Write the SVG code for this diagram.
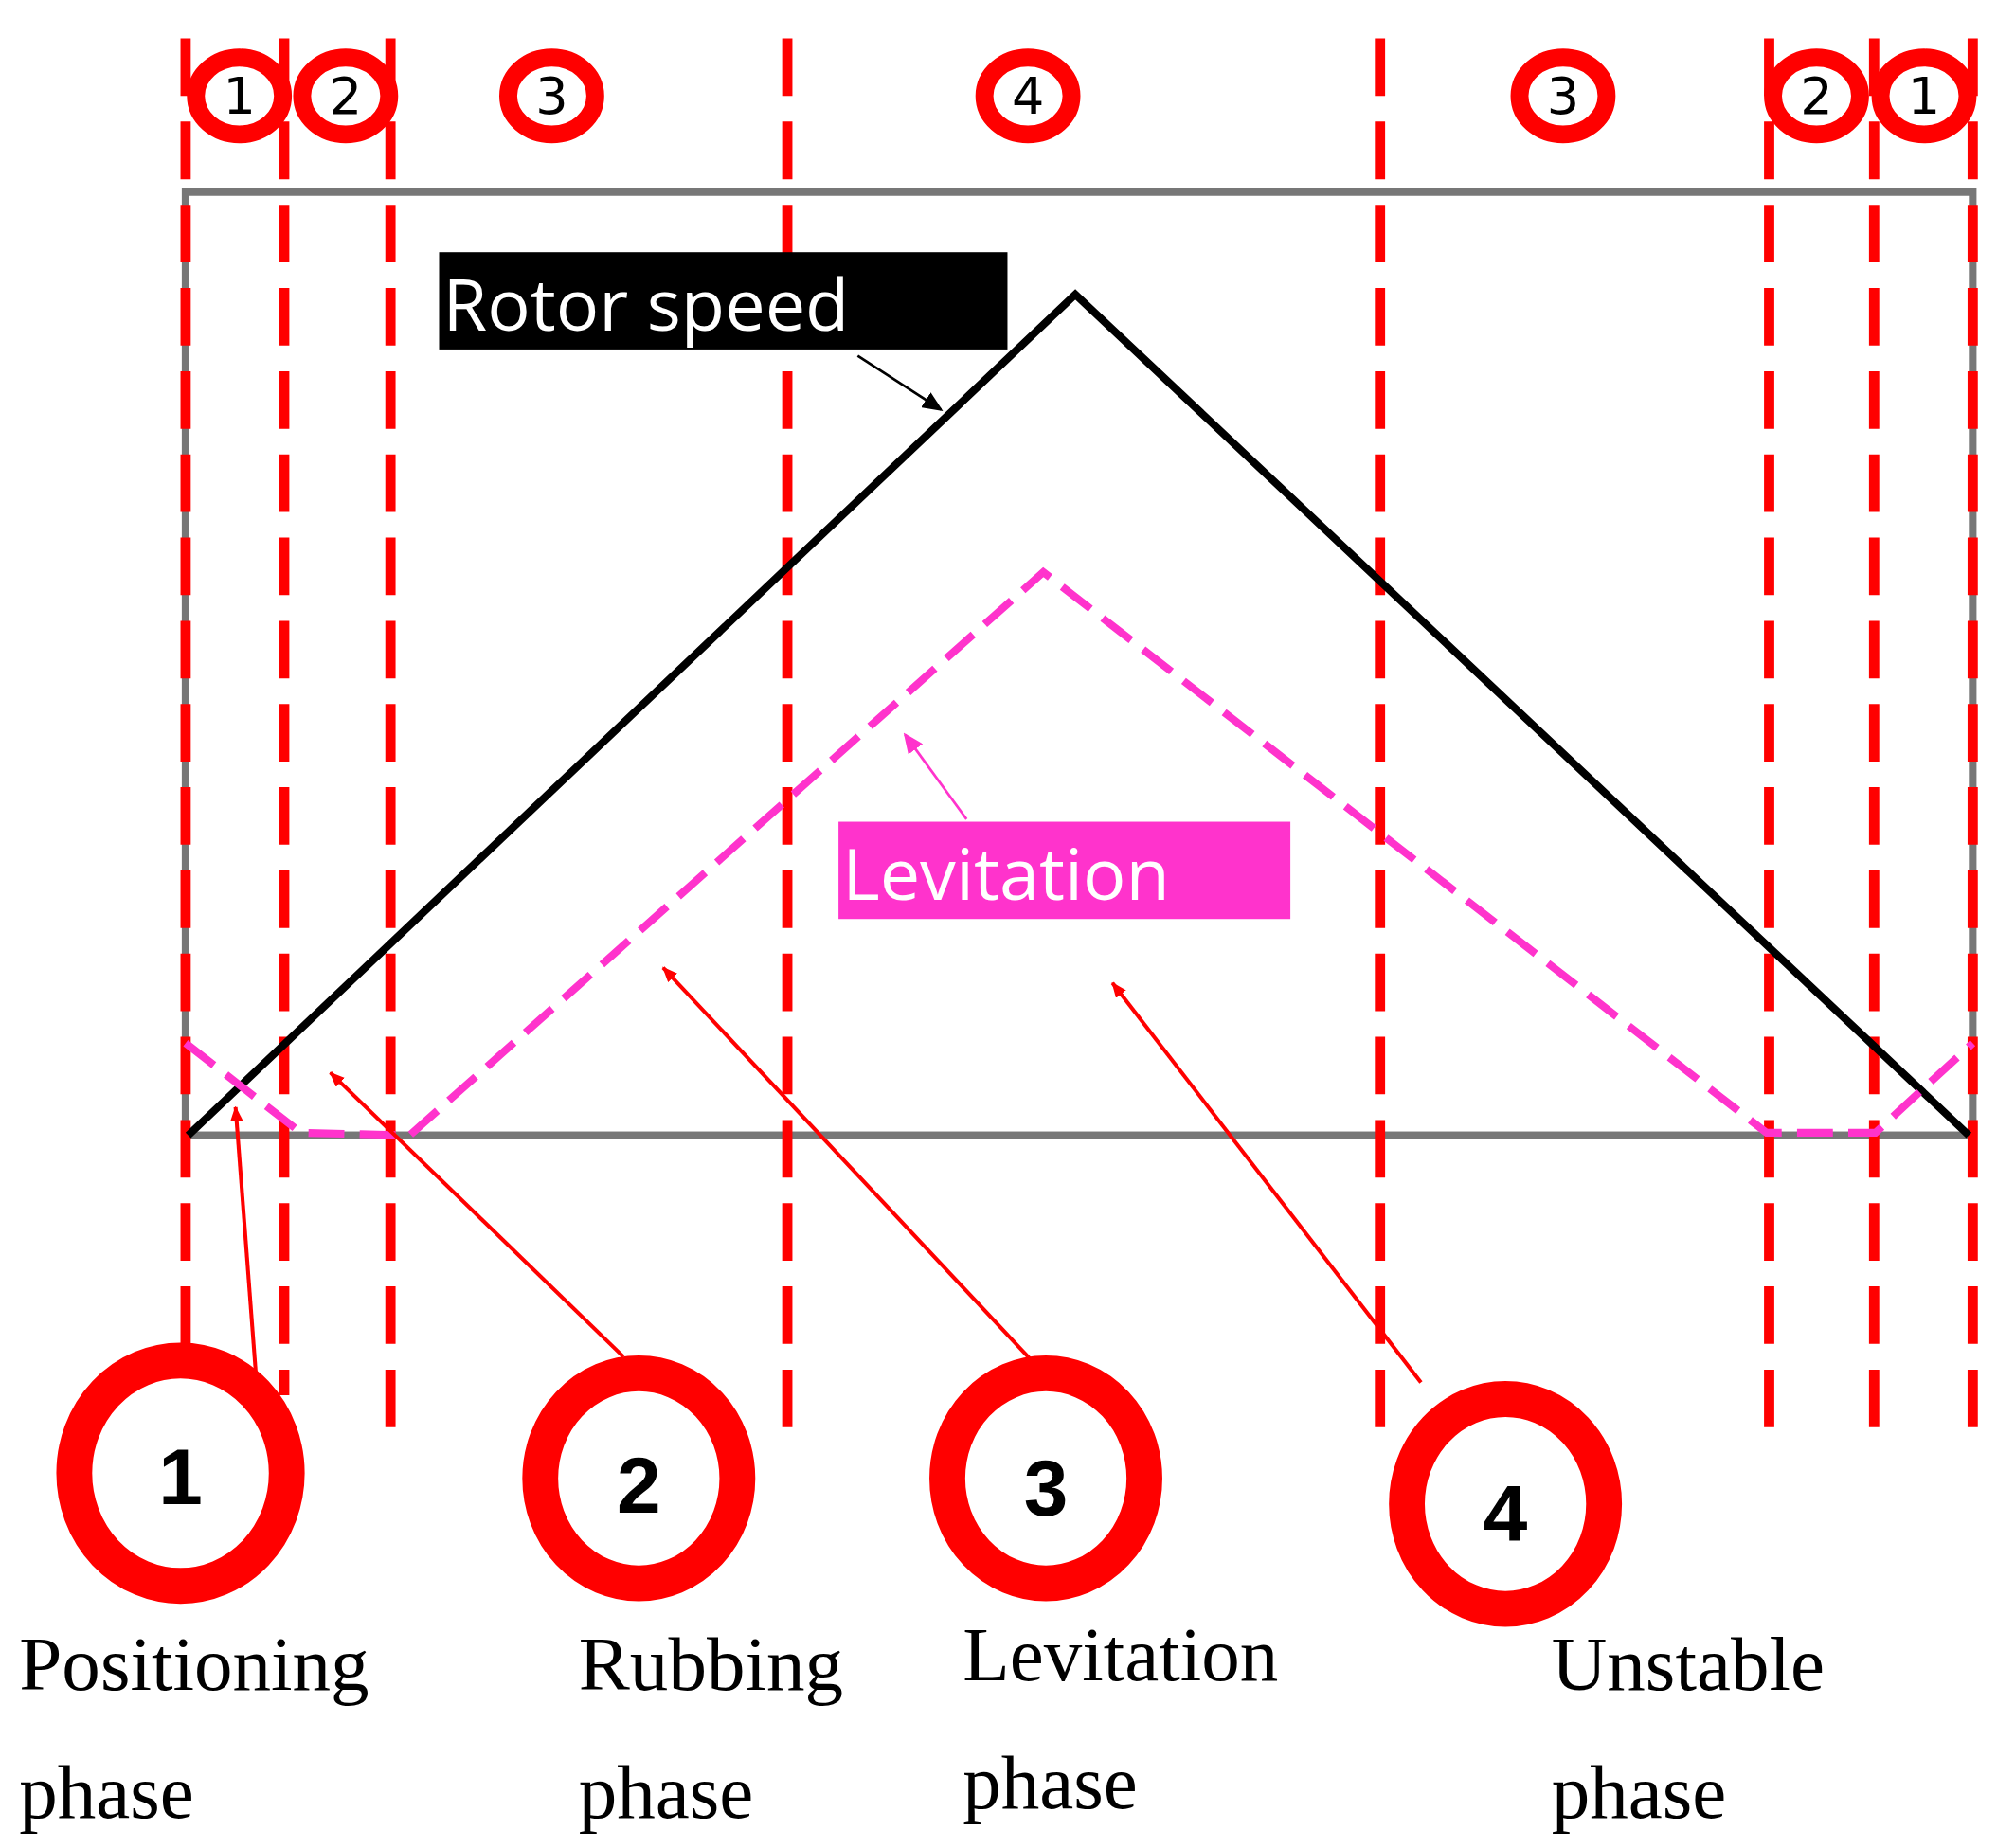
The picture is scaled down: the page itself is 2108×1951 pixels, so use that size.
<svg xmlns="http://www.w3.org/2000/svg" width="2108" height="1951" viewBox="0 0 2108 1951">
<style>
.vl{stroke:#ff0000;stroke-width:8;stroke-dasharray:45 20;fill:none}
.sc{fill:#fff;stroke:#ff0000;stroke-width:14}
.sn{font-family:"DejaVu Sans",sans-serif;font-size:40px;text-anchor:middle;fill:#000}
.bc{fill:#fff;stroke:#ff0000;stroke-width:28}
.bn{font-family:"Liberation Sans",sans-serif;font-weight:bold;font-size:62px;text-anchor:middle;fill:#000}
.lb{font-family:"Liberation Serif",serif;font-size:60px;fill:#000}
.ar{stroke:#ff0000;stroke-width:3;fill:none;marker-end:url(#ra)}
</style>
<defs>
<marker id="ra" markerWidth="12" markerHeight="10" refX="11" refY="5" orient="auto" markerUnits="userSpaceOnUse" viewBox="0 0 12 10"><path d="M0,0L12,5L0,10z" fill="#ff0000"/></marker>
<marker id="ka" markerWidth="8" markerHeight="7" refX="7" refY="3.5" orient="auto" viewBox="0 0 8 7"><path d="M0,0L8,3.5L0,7z" fill="#000"/></marker>
<marker id="ma" markerWidth="8" markerHeight="7" refX="7" refY="3.5" orient="auto" viewBox="0 0 8 7"><path d="M0,0L8,3.5L0,7z" fill="#ff33cc"/></marker>
</defs>
<rect width="2108" height="1951" fill="#fff"/>
<g transform="scale(1.3513)">
<g id="frame"><rect x="145" y="150" width="1396" height="737" fill="none" stroke="#777" stroke-width="6"/></g>
<g id="phase-lines">
<line class="vl" x1="145" y1="30" x2="145" y2="1135"/>
<line class="vl" x1="222" y1="30" x2="222" y2="1090"/>
<line class="vl" x1="305" y1="30" x2="305" y2="1135"/>
<line class="vl" x1="615" y1="30" x2="615" y2="1135"/>
<line class="vl" x1="1078" y1="30" x2="1078" y2="1135"/>
<line class="vl" x1="1382" y1="30" x2="1382" y2="1135"/>
<line class="vl" x1="1464" y1="30" x2="1464" y2="1135"/>
<line class="vl" x1="1541" y1="30" x2="1541" y2="1135"/>
</g>
<g id="top-markers">
<ellipse class="sc" cx="187" cy="75" rx="34" ry="30"/><text class="sn" x="187" y="89">1</text>
<ellipse class="sc" cx="270" cy="75" rx="34" ry="30"/><text class="sn" x="270" y="89">2</text>
<ellipse class="sc" cx="431" cy="75" rx="34" ry="30"/><text class="sn" x="431" y="89">3</text>
<ellipse class="sc" cx="803" cy="75" rx="34" ry="30"/><text class="sn" x="803" y="89">4</text>
<ellipse class="sc" cx="1221" cy="75" rx="34" ry="30"/><text class="sn" x="1221" y="89">3</text>
<ellipse class="sc" cx="1419" cy="75" rx="34" ry="30"/><text class="sn" x="1419" y="89">2</text>
<ellipse class="sc" cx="1503" cy="75" rx="34" ry="30"/><text class="sn" x="1503" y="89">1</text>
</g>
<g id="rotor-speed">
<polyline points="147,887 840,230 1538,887" fill="none" stroke="#000" stroke-width="6"/>
<rect x="343" y="197" width="444" height="76" fill="#000"/>
<text x="346" y="258" font-family="Open Sans,DejaVu Sans,sans-serif" font-size="56" fill="#fff">Rotor speed</text>
<line x1="670" y1="278" x2="735" y2="320" stroke="#000" stroke-width="2" marker-end="url(#ka)"/>
</g>
<g id="levitation">
<polyline points="145,815 235,885 320,887 815,447 1380,885 1465,885 1541,815" fill="none" stroke="#ff33cc" stroke-width="6" stroke-dasharray="28 12"/>
<rect x="655" y="642" width="353" height="76" fill="#ff33cc"/>
<text x="658" y="703" font-family="Open Sans,DejaVu Sans,sans-serif" font-size="56" fill="#fff">Levitation</text>
<line x1="755" y1="640" x2="707" y2="574" stroke="#ff33cc" stroke-width="2" marker-end="url(#ma)"/>
</g>
<g id="connectors">
<line class="ar" x1="200" y1="1075" x2="184" y2="865"/>
<line class="ar" x1="487" y1="1060" x2="258" y2="838"/>
<line class="ar" x1="805" y1="1062" x2="518" y2="756"/>
<line class="ar" x1="1110" y1="1080" x2="869" y2="768"/>
</g>
<g id="phase1"><ellipse class="bc" cx="141" cy="1151" rx="83" ry="88"/><text class="bn" x="141" y="1175">1</text><text class="lb" x="15" y="1320">Positioning</text><text class="lb" x="15" y="1420">phase</text></g>
<g id="phase2"><ellipse class="bc" cx="499" cy="1155" rx="77" ry="82"/><text class="bn" x="499" y="1182">2</text><text class="lb" x="452" y="1320">Rubbing</text><text class="lb" x="452" y="1420">phase</text></g>
<g id="phase3"><ellipse class="bc" cx="817" cy="1155" rx="77" ry="82"/><text class="bn" x="817" y="1184">3</text><text class="lb" x="752" y="1313">Levitation</text><text class="lb" x="752" y="1413">phase</text></g>
<g id="phase4"><ellipse class="bc" cx="1176" cy="1175" rx="77" ry="82"/><text class="bn" x="1176" y="1204">4</text><text class="lb" x="1212" y="1320">Unstable</text><text class="lb" x="1212" y="1420">phase</text></g>
</g>
</svg>
